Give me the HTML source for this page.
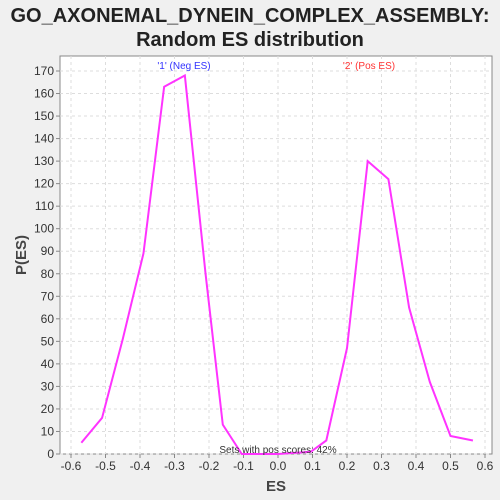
<!DOCTYPE html>
<html><head><meta charset="utf-8"><style>
body{margin:0;background:#f0f0f0;}
svg{display:block;font-family:"Liberation Sans","DejaVu Sans",sans-serif;}
</style></head><body>
<svg id="chart" width="500" height="500">
<rect width="500" height="500" fill="#f0f0f0"/>
<text x="250" y="22" text-anchor="middle" font-size="20" font-weight="bold" fill="#222">GO_AXONEMAL_DYNEIN_COMPLEX_ASSEMBLY:</text>
<text x="250" y="46" text-anchor="middle" font-size="20" font-weight="bold" fill="#222">Random ES distribution</text>
<rect x="60" y="56" width="432" height="398" fill="#fff" stroke="#888"/>
<g id="grid"></g><g id="axes"></g><g id="series"></g>
<text x="184" y="69" text-anchor="middle" font-size="10" fill="#3333ff">'1' (Neg ES)</text>
<text x="369" y="69" text-anchor="middle" font-size="10" fill="#ff3333">'2' (Pos ES)</text>
<text x="278" y="453" text-anchor="middle" font-size="10" fill="#333">Sets with pos scores: 42%</text>
<text x="276" y="491" text-anchor="middle" font-size="15" font-weight="bold" fill="#444">ES</text>
<text x="26" y="255" text-anchor="middle" font-size="15" font-weight="bold" fill="#444" transform="rotate(-90 26 255)">P(ES)</text>
</svg>
<script>
const xs=[-0.57,-0.51,-0.45,-0.39,-0.33,-0.27,-0.21,-0.16,-0.105,0,0.095,0.14,0.2,0.26,0.32,0.38,0.44,0.5,0.565];
const ys=[5,16,51,89,163,168,80,13,0,0,1,6,47,130,122,65,32,8,6];
const xTicks=[-0.6,-0.5,-0.4,-0.3,-0.2,-0.1,0.0,0.1,0.2,0.3,0.4,0.5,0.6];
const yTicks=[0,10,20,30,40,50,60,70,80,90,100,110,120,130,140,150,160,170];
const X=v=>278+v*345, Y=v=>454-v*2.253;
const NS="http://www.w3.org/2000/svg";
function mk(t,a,p){const e=document.createElementNS(NS,t);for(const k in a)e.setAttribute(k,a[k]);p.appendChild(e);return e;}
const g=document.getElementById('grid'),ax=document.getElementById('axes'),s=document.getElementById('series');
xTicks.forEach(t=>{
 const l=mk('line',{x1:X(t),x2:X(t),y1:56,y2:454,stroke:'#ddd','stroke-dasharray':'3,3'},g);
 
 
 const k=mk('line',{x1:X(t),x2:X(t),y1:454,y2:458,stroke:'#888'},ax);
 
 
 const tx=mk('text',{x:X(t),y:470,'text-anchor':'middle','font-size':12,fill:'#333'},ax);
 tx.textContent=t.toFixed(1);
 
 
});
yTicks.forEach(t=>{
 const l=mk('line',{x1:60,x2:492,y1:Y(t),y2:Y(t),stroke:'#ddd','stroke-dasharray':'3,3'},g);
 
 
 const k=mk('line',{x1:56,x2:60,y1:Y(t),y2:Y(t),stroke:'#888'},ax);
 
 
 const tx=mk('text',{x:54,y:Y(t)+4,'text-anchor':'end','font-size':12,fill:'#333'},ax);
 tx.textContent=t;
 
 
});
const pl=mk('polyline',{points:xs.map((x,i)=>X(x)+','+Y(ys[i])).join(' '),fill:'none',stroke:'#ff33ff','stroke-width':2},s);


</script>
</body></html>
